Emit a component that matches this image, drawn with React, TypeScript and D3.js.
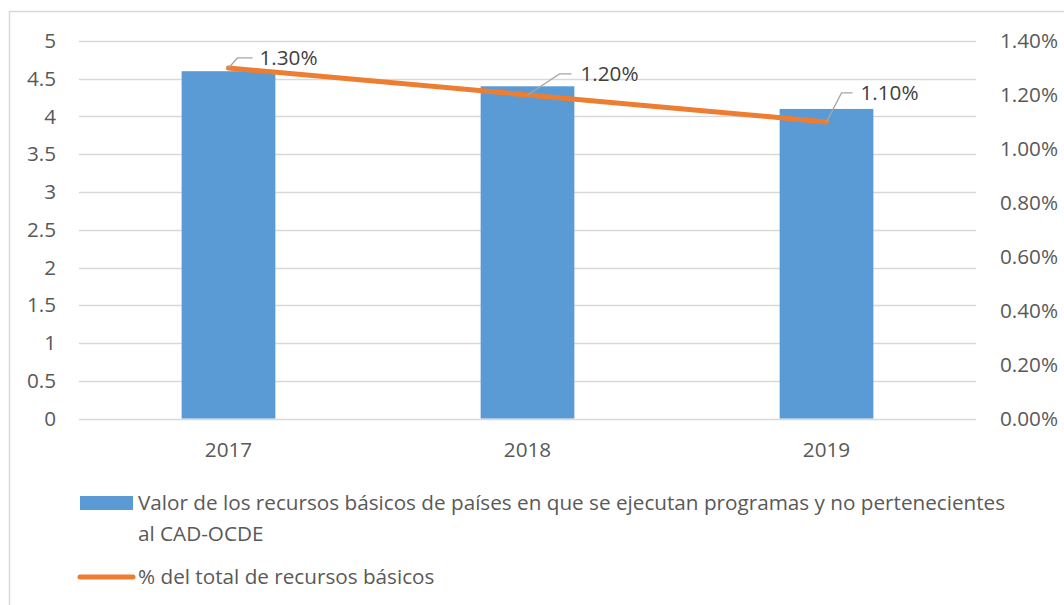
import React from "react";
import * as d3 from "d3";

const categories = ["2017", "2018", "2019"];
const barValues = [4.6, 4.4, 4.1];
const lineValues = [0.013, 0.012, 0.011];
const leftTicks = [0, 0.5, 1, 1.5, 2, 2.5, 3, 3.5, 4, 4.5, 5];
const rightTicks = [0, 0.002, 0.004, 0.006, 0.008, 0.01, 0.012, 0.014];
const barLabel = "Valor de los recursos básicos de países en que se ejecutan programas y no pertenecientes";
const barLabel2 = "al CAD-OCDE";
const lineLabel = "% del total de recursos básicos";
// label leader offsets (elbow dx, dy, end dx, text dx)
const leaderOffsets = [
  { ex: 9, ey: -10, hx: 24, tx: 31 },
  { ex: 32, ey: -21, hx: 44, tx: 53 },
  { ex: 15, ey: -29, hx: 26, tx: 34 },
];

const W = 1064;
const H = 605;
const FONT = "'Open Sans', Lato, sans-serif";
const TXT = "#595959";
const FS = 20.7;

export default function App() {
  const left = 79, right = 976, top = 41, bottom = 418.5;
  const x = d3.scaleBand<string>().domain(categories).range([left, right]).paddingInner(0).paddingOuter(0);
  const yL = d3.scaleLinear().domain([0, 5]).range([bottom, top]);
  const yR = d3.scaleLinear().domain([0, 0.014]).range([bottom, top]);
  const bw = x.bandwidth() / 3.19;
  const cx = (c: string) => (x(c) as number) + x.bandwidth() / 2;
  const line = d3.line<number>().x((_, i) => cx(categories[i])).y((d) => yR(d));
  const fmt = d3.format(".2%");

  return (
    <svg width={W} height={H} style={{ position: "absolute", left: 0, top: 0, fontFamily: FONT }}>
      <rect x={0} y={0} width={W} height={H} fill="#fff" />
      <rect x={9.5} y={11.5} width={W + 20} height={H + 20} fill="none" stroke="#D9D9D9" strokeWidth={1.5} />
      {leftTicks.map((t) => (
        <line key={"g" + t} x1={left} x2={right} y1={Math.round(yL(t)) + 0.5} y2={Math.round(yL(t)) + 0.5} stroke="#D9D9D9" strokeWidth={1.3} />
      ))}
      {leftTicks.map((t) => (
        <text key={"l" + t} x={56} y={yL(t)} dy="0.35em" textAnchor="end" fontSize={FS} fill={TXT}>
          {String(t)}
        </text>
      ))}
      {rightTicks.map((t) => (
        <text key={"r" + t} x={1000} y={yR(t)} dy="0.35em" textAnchor="start" fontSize={FS} fill={TXT}>
          {fmt(t)}
        </text>
      ))}
      {categories.map((c, i) => (
        <rect key={"b" + c} x={cx(c) - bw / 2} y={yL(barValues[i])} width={bw} height={bottom - yL(barValues[i])} fill="#5B9BD5" />
      ))}
      {categories.map((c) => (
        <text key={"x" + c} x={cx(c)} y={450} dy="0.35em" textAnchor="middle" fontSize={FS} fill={TXT}>
          {c}
        </text>
      ))}
      <path d={line(lineValues) || ""} fill="none" stroke="#ED7D31" strokeWidth={5} strokeLinecap="round" strokeLinejoin="round" />
      {categories.map((c, i) => {
        const px = cx(c), py = yR(lineValues[i]);
        const o = leaderOffsets[i];
        return (
          <g key={"lab" + c}>
            <polyline points={`${px},${py} ${px + o.ex},${py + o.ey} ${px + o.hx},${py + o.ey}`} fill="none" stroke="#A6A6A6" strokeWidth={1.3} />
            <text x={px + o.tx} y={py + o.ey} dy="0.35em" fontSize={FS} fill="#404040">
              {fmt(lineValues[i])}
            </text>
          </g>
        );
      })}
      <rect x={80} y={496} width={53} height={14} fill="#5B9BD5" />
      <text x={138} y={503} dy="0.35em" fontSize={FS} fill={TXT}>{barLabel}</text>
      <text x={138} y={534} dy="0.35em" fontSize={FS} fill={TXT}>{barLabel2}</text>
      <line x1={80} x2={133} y1={577} y2={577} stroke="#ED7D31" strokeWidth={5} strokeLinecap="round" />
      <text x={138} y={577} dy="0.35em" fontSize={FS} fill={TXT}>{lineLabel}</text>
    </svg>
  );
}
